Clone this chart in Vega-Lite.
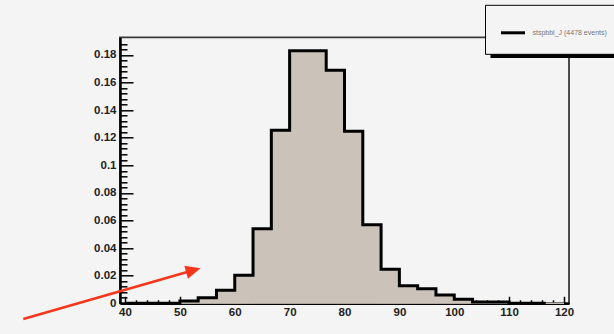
{
  "$schema": "https://vega.github.io/schema/vega-lite/v6.json",
  "width": 449,
  "height": 266,
  "autosize": "none",
  "padding": {"left": 120, "top": 37.3, "right": 45, "bottom": 30.7},
  "background": "#f4f4f4",
  "config": {
    "view": {"stroke": "#3a3a3a", "strokeWidth": 1.8, "fill": null},
    "axis": {"grid": false, "title": null, "zindex": 1, "labelFont": "Liberation Sans", "labelFontWeight": "bold", "labelFontSize": 11.5, "labelColor": "#222222", "tickColor": "black", "domainColor": "black"}
  },
  "datasets": {
    "hist": [
      {"start": 40, "end": 43.333, "value": 0},
      {"start": 43.333, "end": 46.667, "value": 0},
      {"start": 46.667, "end": 50, "value": 0},
      {"start": 50, "end": 53.333, "value": 0.0017},
      {"start": 53.333, "end": 56.667, "value": 0.0041},
      {"start": 56.667, "end": 60, "value": 0.0094},
      {"start": 60, "end": 63.333, "value": 0.0203},
      {"start": 63.333, "end": 66.667, "value": 0.054},
      {"start": 66.667, "end": 70, "value": 0.1254},
      {"start": 70, "end": 73.333, "value": 0.183},
      {"start": 73.333, "end": 76.667, "value": 0.183},
      {"start": 76.667, "end": 80, "value": 0.169},
      {"start": 80, "end": 83.333, "value": 0.1247},
      {"start": 83.333, "end": 86.667, "value": 0.057},
      {"start": 86.667, "end": 90, "value": 0.0246},
      {"start": 90, "end": 93.333, "value": 0.0128},
      {"start": 93.333, "end": 96.667, "value": 0.0106},
      {"start": 96.667, "end": 100, "value": 0.006},
      {"start": 100, "end": 103.333, "value": 0.003},
      {"start": 103.333, "end": 106.667, "value": 0.0009},
      {"start": 106.667, "end": 110, "value": 0.0009},
      {"start": 110, "end": 113.333, "value": 0},
      {"start": 113.333, "end": 116.667, "value": 0},
      {"start": 116.667, "end": 120, "value": 0}
    ],
    "arrow": [
      {"x": 21.47, "y": -0.0114, "x2": 52.46, "y2": 0.024}
    ],
    "arrowhead": [
      {"x": 52.46, "y": 0.024}
    ],
    "shadow": [
      {"x": 106.6, "x2": 140, "y": 0.1792}
    ]
  },
  "resolve": {"axis": {"x": "independent", "y": "independent"}},
  "layer": [
    {
      "data": {"name": "hist"},
      "mark": {"type": "bar", "color": "#cbc3b9", "stroke": "#cbc3b9", "strokeWidth": 1, "orient": "vertical"},
      "encoding": {
        "x": {"field": "start", "type": "quantitative", "scale": {"domain": [40, 120], "nice": false, "zero": false},
              "axis": {"orient": "bottom", "ticks": false, "domain": true, "domainWidth": 2.5, "labelPadding": 3, "values": [40, 50, 60, 70, 80, 90, 100, 110, 120]}},
        "x2": {"field": "end"},
        "y": {"field": "value", "type": "quantitative", "stack": null, "scale": {"domain": [0, 0.1928], "nice": false},
              "axis": {"orient": "left", "ticks": false, "domain": true, "domainWidth": 2.5, "labelPadding": 4, "format": "~g", "values": [0, 0.02, 0.04, 0.06, 0.08, 0.1, 0.12, 0.14, 0.16, 0.18]}},
        "y2": {"datum": 0}
      }
    },
    {
      "data": {"name": "hist"},
      "mark": {"type": "line", "interpolate": "step-after", "strokeWidth": 3, "strokeJoin": "miter"},
      "encoding": {
        "x": {"field": "start", "type": "quantitative",
              "axis": {"orient": "bottom", "labels": false, "domain": false, "ticks": true, "tickSize": -7, "tickWidth": 1.5, "values": [40, 50, 60, 70, 80, 90, 100, 110, 120]}},
        "y": {"field": "value", "type": "quantitative",
              "axis": {"orient": "left", "labels": false, "domain": false, "ticks": true, "tickSize": -13, "tickWidth": 1.5, "values": [0, 0.02, 0.04, 0.06, 0.08, 0.1, 0.12, 0.14, 0.16, 0.18]}},
        "color": {"datum": "stspbbl_J (4478 events)", "type": "nominal",
                  "scale": {"range": ["black"]},
                  "legend": {"orient": "none", "legendX": 365, "legendY": -32.5, "title": null, "symbolType": "stroke", "symbolStrokeWidth": 3, "symbolSize": 576, "symbolStrokeColor": "black", "labelFontSize": 7, "labelColor": "#777777", "labelFont": "Liberation Sans", "labelLimit": 400, "labelOffset": 6, "padding": 14.5, "fillColor": "#f4f4f4", "strokeColor": "black", "zindex": 2}}
      }
    },
    {
      "data": {"name": "arrow"},
      "mark": {"type": "rule", "color": "#f5361c", "strokeWidth": 2.5},
      "encoding": {
        "x": {"field": "x", "type": "quantitative",
              "axis": {"orient": "bottom", "labels": false, "domain": false, "ticks": true, "tickSize": -3.5, "tickWidth": 1.5, "values": [42, 44, 46, 48, 52, 54, 56, 58, 62, 64, 66, 68, 72, 74, 76, 78, 82, 84, 86, 88, 92, 94, 96, 98, 102, 104, 106, 108, 112, 114, 116, 118]}},
        "y": {"field": "y", "type": "quantitative",
              "axis": {"orient": "left", "labels": false, "domain": false, "ticks": true, "tickSize": -7, "tickWidth": 1.5, "values": [0.004, 0.008, 0.012, 0.016, 0.024, 0.028, 0.032, 0.036, 0.044, 0.048, 0.052, 0.056, 0.064, 0.068, 0.072, 0.076, 0.084, 0.088, 0.092, 0.096, 0.104, 0.108, 0.112, 0.116, 0.124, 0.128, 0.132, 0.136, 0.144, 0.148, 0.152, 0.156, 0.164, 0.168, 0.172, 0.176, 0.184, 0.188]}},
        "x2": {"field": "x2"},
        "y2": {"field": "y2"}
      }
    },
    {
      "data": {"name": "arrowhead"},
      "mark": {"type": "point", "shape": "M-1,-0.9L1,0L-1,0.9Z", "size": 225, "angle": 344.3, "filled": true, "color": "#f5361c", "opacity": 1},
      "encoding": {
        "x": {"field": "x", "type": "quantitative", "axis": null},
        "y": {"field": "y", "type": "quantitative", "axis": null}
      }
    },
    {
      "data": {"name": "shadow"},
      "mark": {"type": "rule", "color": "black", "strokeWidth": 4},
      "encoding": {
        "x": {"field": "x", "type": "quantitative", "axis": null},
        "x2": {"field": "x2"},
        "y": {"field": "y", "type": "quantitative", "axis": null}
      }
    }
  ]
}
